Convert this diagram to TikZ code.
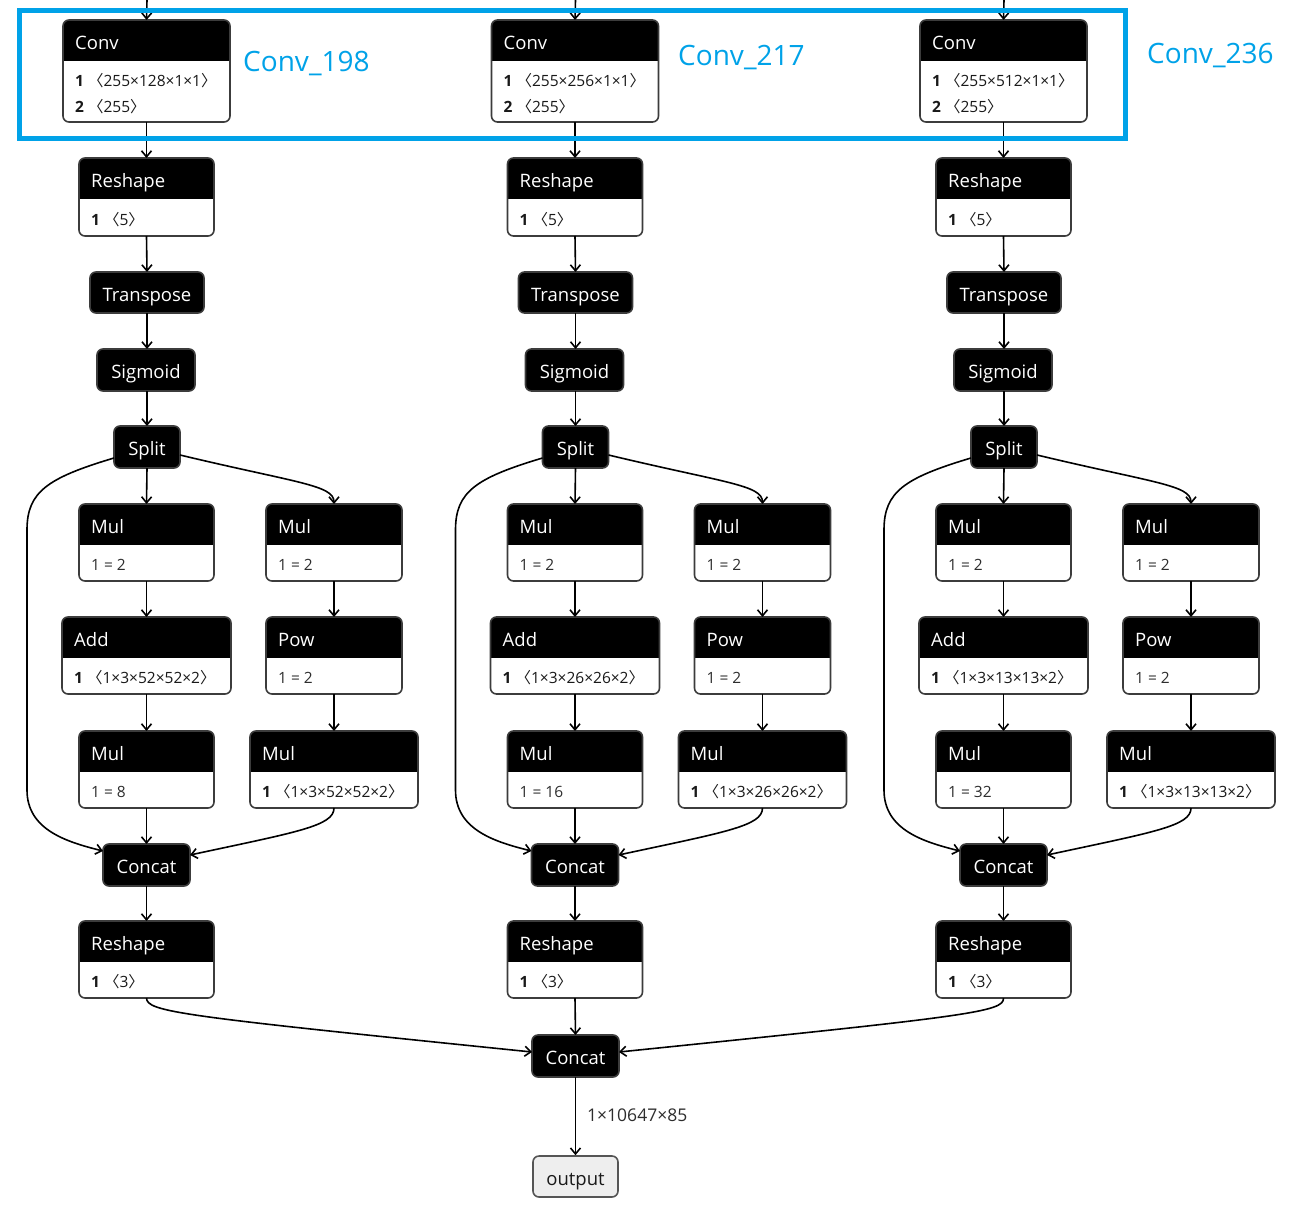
\documentclass[tikz,border=0pt]{standalone}
\usepackage{fontspec}
\setmainfont{Open Sans}
\newfontfamily\cjk{Noto Sans CJK SC}
\usetikzlibrary{arrows.meta}
\definecolor{bluebox}{RGB}{0,162,232}
\definecolor{nodeborder}{RGB}{60,60,60}
\definecolor{txt}{RGB}{25,25,25}
\definecolor{eqtxt}{RGB}{45,45,45}
\definecolor{outfill}{RGB}{238,238,238}
\definecolor{outborder}{RGB}{85,85,85}
\tikzset{
 opbox/.style={draw=nodeborder, line width=1.6pt, rounded corners=6pt, fill=white, inner sep=0pt, outer sep=0pt,
   path picture={\fill[black, sharp corners] (path picture bounding box.north west) rectangle ([yshift=-41pt]path picture bounding box.north east);}},
 blk/.style={draw=nodeborder, line width=1.6pt, rounded corners=6pt, fill=black, text=white, inner sep=0pt, outer sep=0pt,
   text height=18.5pt, text depth=1.5pt, font=\fontsize{18.5}{20}\selectfont},
 ttl/.style={text=white, inner sep=0pt, font=\fontsize{18.5}{20}\selectfont},
 bodytxt/.style={text=txt, inner sep=0pt, font=\fontsize{15.5}{17}\selectfont},
 eqbody/.style={text=eqtxt, inner sep=0pt, font=\fontsize{15.5}{17}\selectfont},
 edge/.style={draw=black, line width=1.6pt, -{Straight Barb[length=6pt,width=10pt]}},
 bluelbl/.style={text=bluebox, inner sep=0pt, font=\fontsize{28}{31}\selectfont},
 edgelbl/.style={text=eqtxt, inner sep=0pt, font=\fontsize{17.5}{19}\selectfont},
 outbox/.style={draw=outborder, line width=1.6pt, rounded corners=6pt, fill=outfill, text=txt, inner sep=0pt,
   text height=18.5pt, text depth=1.5pt, font=\fontsize{18.5}{20}\selectfont},
}
% name, left, top, width, height, title
\newcommand\opbox[6]{%
  \node[opbox, minimum width=#4pt, minimum height=#5pt, anchor=north] (#1) at ({#2+#4/2},#3) {};
  \node[ttl, anchor=base west] (#1t) at ({#2+12},{#3+29.5}) {#6};}
% name, left, top, line offset, text
\newcommand\bline[5]{\node[bodytxt, anchor=base west] (#1) at ({#2+12},{#3+66.5+#4}) {#5};}
\newcommand\eline[5]{\node[eqbody, anchor=base west] (#1) at ({#2+12},{#3+66.5+#4}) {#5};}
% name, center x, top, width, height, text
\newcommand\blkbox[6]{\node[blk, minimum width=#4pt, minimum height=#5pt] (#1) at (#2,{#3+#5/2}) {#6};}
\newcommand\lb{{\cjk 〈}}
\newcommand\rb{{\cjk 〉}}
\begin{document}
\begin{tikzpicture}[x=1pt,y=-1pt]
\useasboundingbox (0,0) rectangle (1299,1208);
\foreach \c/\cx/\a/\b/\s in {1/147/128/52/8, 2/575.5/256/26/16, 3/1004/512/13/32}{
\begin{scope}[shift={(\cx,0)}]
  \coordinate (in\c) at (0,0);
  \opbox{conv\c}{-84}{20}{167}{102}{Conv}
  \bline{convA\c}{-84}{20}{0}{\textbf{1} \lb255×\a×1×1\rb}
  \bline{convB\c}{-84}{20}{26}{\textbf{2} \lb255\rb}
  \opbox{reshA\c}{-68}{158}{135}{78}{Reshape}
  \bline{reshAb\c}{-68}{158}{0.5}{\textbf{1} \lb5\rb}
  \blkbox{tr\c}{0}{272}{114}{41}{Transpose}
  \blkbox{sig\c}{-1}{349}{98}{42}{Sigmoid}
  \blkbox{split\c}{0}{426}{66}{42}{Split}
  \opbox{mulL\c}{-68}{504}{135}{77}{Mul}
  \eline{mulLb\c}{-68}{504}{0}{1\hspace{4pt}=\hspace{4pt}2}
  \opbox{mulR\c}{119}{504}{136}{77}{Mul}
  \eline{mulRb\c}{119}{504}{0}{1\hspace{4pt}=\hspace{4pt}2}
  \opbox{add\c}{-85}{617}{169}{77}{Add}
  \bline{addb\c}{-85}{617}{0}{\textbf{1} \lb1×3×\b×\b×2\rb}
  \opbox{pow\c}{119}{617}{136}{77}{Pow}
  \eline{powb\c}{119}{617}{0}{1\hspace{4pt}=\hspace{4pt}2}
  \opbox{mulM\c}{-68}{731}{135}{77}{Mul}
  \eline{mulMb\c}{-68}{731}{0}{1\hspace{4pt}=\hspace{4pt}\s}
  \opbox{mulN\c}{103}{731}{168}{77}{Mul}
  \bline{mulNb\c}{103}{731}{0}{\textbf{1} \lb1×3×\b×\b×2\rb}
  \blkbox{cat\c}{-0.5}{844}{87}{42}{Concat}
  \opbox{reshB\c}{-68}{921}{135}{77}{Reshape}
  \bline{reshBb\c}{-68}{921}{0}{\textbf{1} \lb3\rb}
  % edges
  \draw[edge] (in\c) -- (conv\c.north);
  \draw[edge] (conv\c.south) -- (reshA\c.north);
  \draw[edge] (reshA\c.south) -- (tr\c.north);
  \draw[edge] (tr\c.south) -- (sig\c.north -| tr\c.south);
  \draw[edge] (sig\c.south -| tr\c.south) -- (split\c.north);
  \draw[edge] (split\c.south) -- (mulL\c.north);
  \draw[edge] ([yshift=-8pt]split\c.east) .. controls (150,483) and (187,485) .. (mulR\c.north);
  \draw[edge] (mulL\c.south) -- (add\c.north -| mulL\c.south);
  \draw[edge] (add\c.south -| mulL\c.south) -- (mulM\c.north);
  \draw[edge] (mulR\c.south) -- (pow\c.north);
  \draw[edge] (pow\c.south) -- (mulN\c.north);
  \draw[edge] (mulM\c.south) -- (cat\c.north -| mulM\c.south);
  \draw[edge] ([yshift=-11pt]split\c.west) .. controls (-100,478) and (-120,492) .. (-120,530)
     -- (-120,790) .. controls (-120,830) and (-80,842) .. ([yshift=14pt]cat\c.west);
  \draw[edge] (mulN\c.south) .. controls (187,826) and (150,832) .. ([yshift=10pt]cat\c.east);
  \draw[edge] (cat\c.south -| mulM\c.south) -- (reshB\c.north);
\end{scope}
}
\blkbox{fcat}{575.5}{1035}{87}{42}{Concat}
\node[outbox, minimum width=85pt, minimum height=41pt] (out) at (575.5,1176.5) {output};
\draw[edge] (reshB1.south) .. controls (147,1012) and (180,1016) .. ([yshift=4pt]fcat.west);
\draw[edge] (reshB3.south) .. controls (1004,1012) and (971,1016) .. ([yshift=4pt]fcat.east);
\draw[edge] (reshB2.south) -- (fcat.north);
\draw[edge] (fcat.south) -- (out.north);
\node[edgelbl, anchor=base west] (shape) at (587,1121) {1×10647×85};
% highlight
\draw[bluebox, line width=5pt] (19,10.5) rectangle (1125.5,138);
\node[bluelbl, anchor=base west] (l198) at (243,71) {Conv\_198};
\node[bluelbl, anchor=base west] (l217) at (678,65.5) {Conv\_217};
\node[bluelbl, anchor=base west] (l236) at (1147,63) {Conv\_236};
\end{tikzpicture}
\end{document}
